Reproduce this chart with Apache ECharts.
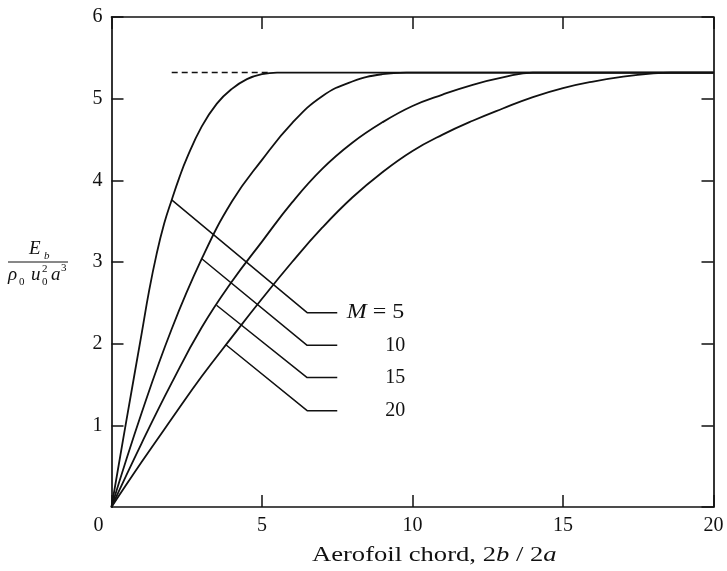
<!DOCTYPE html>
<html>
<head>
<meta charset="utf-8">
<script src="https://cdn.jsdelivr.net/npm/echarts@6/dist/echarts.min.js"></script>
<style>
  html, body { margin: 0; padding: 0; background: #fff; }
  #chart { width: 727px; height: 571px; }
</style>
</head>
<body>
<div id="chart"></div>
<script>
// values: x = aerofoil chord 2b/2a, y = E_b / (rho0 u0^2 a^3)
const machLabels = ['5', '10', '15', '20'];

const curveM5 = [[0, 0], [0.5, 1.07], [1, 2.12], [1.25, 2.65], [1.5, 3.1], [1.75, 3.47], [2, 3.76],
  [2.25, 4.03], [2.5, 4.27], [3, 4.66], [3.5, 4.94], [4, 5.12], [4.5, 5.24], [5, 5.3], [5.5, 5.32],
  [6.5, 5.32], [20, 5.32]];
const curveM10 = [[0, 0], [1, 1.15], [2, 2.18], [3, 3.04], [4, 3.74], [5, 4.25], [6, 4.7],
  [7, 5.03], [8, 5.21], [9, 5.3], [9.8, 5.32], [11, 5.32], [20, 5.32]];
const curveM15 = [[0, 0], [1, 0.78], [2, 1.52], [3, 2.2], [4, 2.76], [5, 3.25], [6, 3.73], [7, 4.14],
  [8, 4.46], [9, 4.71], [10, 4.91], [11, 5.05], [12, 5.17], [13, 5.26], [14, 5.32], [15, 5.32], [20, 5.32]];
const curveM20 = [[0, 0], [1, 0.55], [2, 1.08], [3, 1.6], [4, 2.08], [5, 2.55], [6, 3.0], [7, 3.42],
  [8, 3.79], [9, 4.1], [10, 4.36], [11, 4.56], [12, 4.73], [13, 4.88], [14, 5.02], [15, 5.13],
  [16, 5.21], [17, 5.27], [18, 5.31], [18.6, 5.32], [20, 5.32]];
const asymptote = [[2.0, 5.32], [5.2, 5.32]];

// leader lines from each curve to its M label
const leaderM5 = [[2.0, 3.76], [6.5, 2.38], [7.5, 2.38]];
const leaderM10 = [[3.0, 3.04], [6.5, 1.98], [7.5, 1.98]];
const leaderM15 = [[3.49, 2.47], [6.5, 1.585], [7.5, 1.585]];
const leaderM20 = [[3.79, 1.99], [6.5, 1.18], [7.5, 1.18]];

const curves = [curveM5, curveM10, curveM15, curveM20];
const leaders = [leaderM5, leaderM10, leaderM15, leaderM20];

const serif = '"Liberation Serif", "DejaVu Serif", serif';
const ink = '#111';

const chart = echarts.init(document.getElementById('chart'), null, { renderer: 'canvas' });

function frameAxis(pos, show) {
  return {
    type: 'value', min: 0, position: pos,
    axisLine: { show: true, onZero: false, lineStyle: { color: ink, width: 1.7 } },
    axisTick: { show: true, inside: true, length: 12, lineStyle: { color: ink, width: 1.5 } },
    splitLine: { show: false },
    axisLabel: { show: show }
  };
}

const series = [];
curves.forEach(function (c) {
  series.push({
    type: 'line', data: c, smooth: 0.45, showSymbol: false,
    lineStyle: { color: ink, width: 1.8 }, silent: true
  });
});
leaders.forEach(function (l) {
  series.push({
    type: 'line', data: l, smooth: false, showSymbol: false,
    lineStyle: { color: ink, width: 1.5 }, silent: true
  });
});
series.push({
  type: 'line', data: asymptote, showSymbol: false,
  lineStyle: { color: ink, width: 1.5, type: [6, 4] }, silent: true
});

const xBottom = Object.assign(frameAxis('bottom', true), {
  max: 20, interval: 5,
  axisLabel: {
    show: true, margin: 9, color: ink, fontFamily: serif, fontSize: 20,
    formatter: function (v) { return v === 0 ? '{z|0}' : String(v); },
    rich: { z: { fontFamily: serif, fontSize: 20, color: ink, padding: [0, 26, 0, 0] } }
  }
});
const xTop = Object.assign(frameAxis('top', false), { max: 20, interval: 5 });
const yLeft = Object.assign(frameAxis('left', true), {
  max: 6, interval: 1,
  axisLabel: { show: true, margin: 9, color: ink, fontFamily: serif, fontSize: 20, showMinLabel: false }
});
const yRight = Object.assign(frameAxis('right', false), { max: 6, interval: 1 });

chart.setOption({
  animation: false,
  backgroundColor: '#fff',
  grid: { left: 111.5, right: 13.5, top: 17, bottom: 64, containLabel: false },
  xAxis: [xBottom, xTop],
  yAxis: [yLeft, yRight],
  series: series
});

// labels and axis titles
const txt = function (text, x, y, size, italic, align) {
  return {
    type: 'text', x: x, y: y, silent: true,
    style: {
      text: text, fill: ink, fontFamily: serif, fontSize: size,
      fontStyle: italic ? 'italic' : 'normal',
      align: align || 'left', verticalAlign: 'middle'
    }
  };
};

const g = [];
leaders.forEach(function (l, i) {
  const end = l[l.length - 1];
  const p = chart.convertToPixel({ gridIndex: 0 }, end);
  if (i === 0) {
    g.push({
      type: 'text', x: p[0] + 67, y: p[1], scaleX: 1.2, silent: true,
      style: {
        text: '{i|M} = ' + machLabels[i], fill: ink, fontFamily: serif, fontSize: 20,
        align: 'right', verticalAlign: 'middle',
        rich: { i: { fontFamily: serif, fontSize: 20, fontStyle: 'italic', fill: ink } }
      }
    });
  } else {
    g.push(txt(machLabels[i], p[0] + 68, p[1], 20, false, 'right'));
  }
});

// x axis title (the scan is set wider than Liberation Serif)
g.push({
  type: 'text', x: 312, y: 556, scaleX: 1.33, silent: true,
  style: {
    text: '{n|Aerofoil chord, 2}{i|b}{n| / 2}{i|a}', fill: ink, verticalAlign: 'middle',
    rich: {
      n: { fontFamily: serif, fontSize: 20, fill: ink },
      i: { fontFamily: serif, fontSize: 20, fill: ink, fontStyle: 'italic' }
    }
  }
});

// y axis title as a fraction
g.push(txt('E', 29, 249, 19, true));
g.push(txt('b', 44, 256, 11, true));
g.push({ type: 'line', silent: true, shape: { x1: 8, y1: 262, x2: 68, y2: 262 }, style: { stroke: ink, lineWidth: 1 } });
g.push(txt('ρ', 8, 275, 19, true));
g.push(txt('0', 19, 282, 11, false));
g.push(txt('u', 31, 275, 19, true));
g.push(txt('2', 42, 269, 11, false));
g.push(txt('0', 42, 282, 11, false));
g.push(txt('a', 51, 275, 19, true));
g.push(txt('3', 61, 268, 11, false));

chart.setOption({ graphic: g });
</script>
</body>
</html>
